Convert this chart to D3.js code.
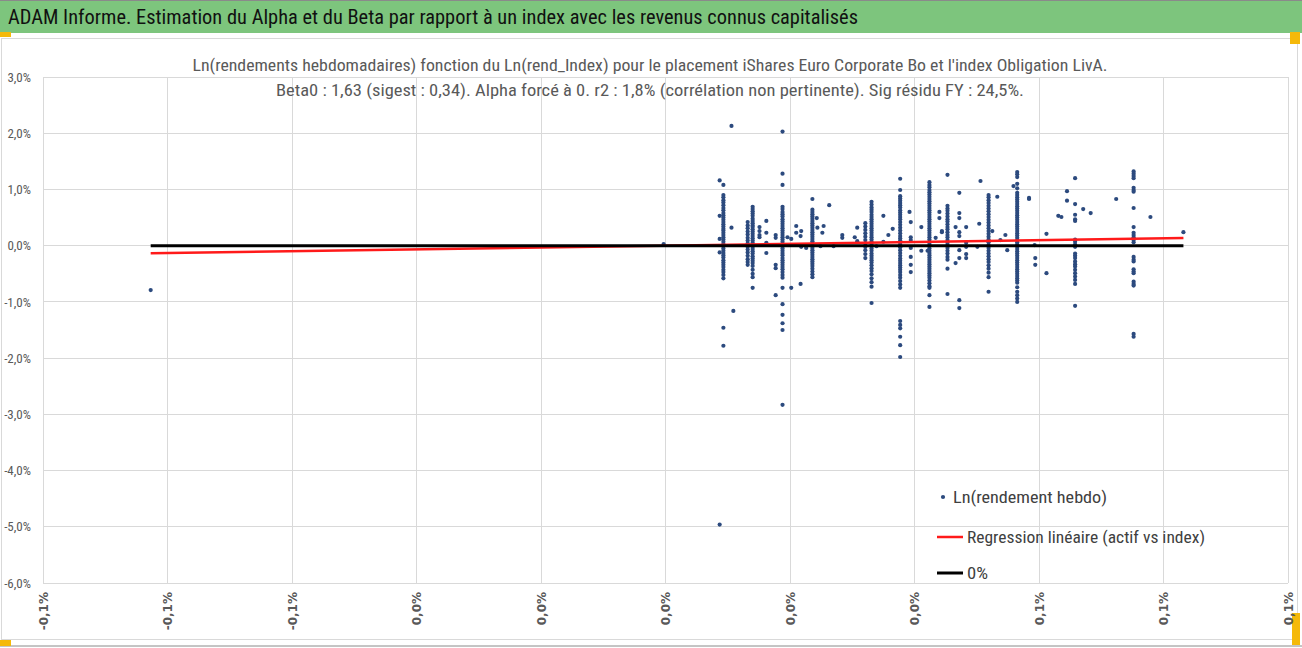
<!DOCTYPE html>
<html>
<head>
<meta charset="utf-8">
<script src="https://cdn.jsdelivr.net/npm/d3@7"></script>
<style>
  body { margin: 0; background: #fff; }
  svg { display: block; }
  .narrow { font-family: 'Liberation Sans Narrow', 'Roboto Condensed', 'Open Sans', sans-serif; }
</style>
</head>
<body>
<svg id="chart" width="1302" height="648"></svg>
<script>
// Titles
const bandTitle = "ADAM Informe. Estimation du Alpha et du Beta par rapport à un index avec les revenus connus capitalisés";
const chartTitle = [
    "Ln(rendements hebdomadaires) fonction du Ln(rend_Index) pour le placement iShares Euro Corporate Bo et l'index Obligation LivA.",
    "Beta0 : 1,63 (sigest : 0,34). Alpha forcé à 0. r2 : 1,8% (corrélation non pertinente). Sig résidu FY : 24,5%."
];
const legendLabels = ["Ln(rendement hebdo)", "Regression linéaire (actif vs index)", "0%"];

// Axis ticks (values in %)
const xTicks = [-0.1, -0.08, -0.06, -0.04, -0.02, 0, 0.02, 0.04, 0.06, 0.08, 0.1];
const xTickLabels = ["-0,1%", "-0,1%", "-0,1%", "0,0%", "0,0%", "0,0%", "0,0%", "0,0%", "0,1%", "0,1%", "0,1%"];
const yTicks = [3, 2, 1, 0, -1, -2, -3, -4, -5, -6];

// Regression: alpha forced to 0
const beta0 = 1.63;

// Scatter: x of each column of points (Ln rend index, %) and its y values (Ln rend hebdo, %)
const colX = [
    -0.0827, -0.0003, 0.0087, 0.0093, 0.0106, 0.0109, 0.0132, 0.0140, 0.0151, 0.0162,
    0.0177, 0.0188, 0.0196, 0.0202, 0.0210, 0.0217, 0.0218, 0.0226, 0.0236, 0.0243,
    0.0244, 0.0249, 0.0252, 0.0254, 0.0263, 0.0270, 0.0284, 0.0304, 0.0308, 0.0321,
    0.0331, 0.0339, 0.0350, 0.0358, 0.0365, 0.0377, 0.0392, 0.0394, 0.0411, 0.0421,
    0.0424, 0.0434, 0.0440, 0.0444, 0.0453, 0.0466, 0.0472, 0.0483, 0.0501, 0.0504,
    0.0506, 0.0519, 0.0525, 0.0533, 0.0538, 0.0546, 0.0549, 0.0559, 0.0565, 0.0584,
    0.0593, 0.0594, 0.0612, 0.0631, 0.0636, 0.0645, 0.0658, 0.0671, 0.0683, 0.0724,
    0.0752, 0.0779, 0.0832
];
const colY = [
    [-0.79],
    [0.03],
    [1.16, 0.53, 0.12, -0.12, -4.96],
    [1.08, 0.90, 0.86, 0.81, 0.77, 0.72, 0.67, 0.63, 0.58, 0.54, 0.50, 0.46, 0.42, 0.38, 0.34, 0.30, 0.27, 0.23, 0.19, 0.15,
     0.11, 0.07, 0.03, -0.01, -0.05, -0.09, -0.13, -0.17, -0.21, -0.26, -0.30, -0.34, -0.38, -0.43, -0.47, -0.52, -0.58, -1.46, -1.78],
    [2.13, 0.32],
    [-1.16],
    [0.42, 0.36, 0.31, 0.25, 0.20, 0.14, 0.09, 0.04, -0.02, -0.07, -0.12, -0.18, -0.24, -0.29, -0.34],
    [0.69, 0.65, 0.61, 0.57, 0.53, 0.48, 0.44, 0.40, 0.36, 0.33, 0.29, 0.25, 0.21, 0.17, 0.13, 0.09, 0.05, 0.02, -0.02, -0.06,
     -0.10, -0.14, -0.19, -0.23, -0.27, -0.31, -0.36, -0.43, -0.50, -0.56, -0.75],
    [0.33, 0.26, 0.19, 0.15],
    [0.44, 0.23, 0.05, -0.13],
    [0.19, 0.14, -0.34, -0.40, -0.88],
    [2.03, 1.28, 1.08, 0.69, 0.65, 0.60, 0.56, 0.52, 0.47, 0.43, 0.39, 0.35, 0.31, 0.27, 0.23, 0.19, 0.15, 0.11, 0.07, 0.03,
     -0.01, -0.05, -0.09, -0.13, -0.17, -0.22, -0.26, -0.30, -0.34, -0.38, -0.42, -0.47, -0.52, -0.57, -0.75, -1.04, -1.23, -1.38, -1.50, -2.83],
    [0.15],
    [0.12, -0.75],
    [0.35, 0.23],
    [0.17, -0.68],
    [0.26, -0.02],
    [-0.04],
    [0.83, 0.64, 0.60, 0.56, 0.52, 0.48, 0.44, 0.40, 0.36, 0.32, 0.28, 0.24, 0.20, 0.16, 0.12, 0.08, 0.04, 0.00, -0.04, -0.08,
     -0.12, -0.16, -0.20, -0.24, -0.28, -0.32, -0.36, -0.41, -0.46, -0.51, -0.56],
    [0.49],
    [0.32],
    [-0.01],
    [0.23],
    [0.35],
    [0.72],
    [-0.01],
    [0.19, 0.14],
    [0.15],
    [0.32, 0.08],
    [0.40, 0.34, 0.28, 0.22, 0.16, 0.10, 0.04, -0.02, -0.08, -0.15, -0.22],
    [0.78, 0.73, 0.68, 0.64, 0.60, 0.55, 0.51, 0.47, 0.43, 0.39, 0.35, 0.31, 0.27, 0.23, 0.19, 0.15, 0.11, 0.07, 0.03, -0.01,
     -0.05, -0.09, -0.14, -0.18, -0.22, -0.26, -0.30, -0.35, -0.40, -0.45, -0.51, -0.58, -0.65, -0.73, -1.02],
    [-0.01],
    [0.53, 0.07],
    [0.19],
    [0.30],
    [1.19, 0.99, 0.88, 0.84, 0.80, 0.76, 0.72, 0.68, 0.63, 0.59, 0.55, 0.51, 0.47, 0.42, 0.37, 0.32, 0.27, 0.22, 0.17, 0.13,
     0.09, 0.05, 0.01, -0.03, -0.08, -0.13, -0.18, -0.23, -0.27, -0.31, -0.35, -0.39, -0.43, -0.47, -0.52, -0.57, -0.63, -0.69, -0.75,
     -1.34, -1.41, -1.47, -1.62, -1.77, -1.98],
    [0.60],
    [0.42, 0.15, 0.10, -0.04, -0.20, -0.34, -0.47],
    [0.33, -0.09],
    [-0.09],
    [1.13, 1.08, 1.04, 0.99, 0.95, 0.91, 0.87, 0.83, 0.79, 0.75, 0.71, 0.67, 0.63, 0.59, 0.55, 0.51, 0.47, 0.43, 0.39, 0.35,
     0.31, 0.27, 0.23, 0.19, 0.15, 0.11, 0.07, 0.03, -0.01, -0.05, -0.09, -0.13, -0.17, -0.21, -0.25, -0.29, -0.33, -0.37, -0.41,
     -0.45, -0.49, -0.53, -0.57, -0.62, -0.67, -0.72, -0.75, -0.88, -1.09],
    [0.14],
    [0.60, 0.49],
    [0.24, 0.26],
    [1.26, 0.71, 0.66, 0.62, 0.57, 0.52, 0.47, 0.43, 0.38, 0.33, 0.29, 0.24, 0.19, 0.15, 0.10, 0.05, 0.01, -0.04, -0.09, -0.14,
     -0.20, -0.25, -0.41, -0.86],
    [0.33, -0.31],
    [0.94, 0.58, 0.49, 0.24, 0.17, -0.08, -0.22, -0.97, -1.11],
    [0.33, 0.05, -0.02, -0.15, -0.22],
    [-0.02],
    [0.39],
    [1.15],
    [0.90, 0.86, 0.81, 0.76, 0.71, 0.66, 0.61, 0.56, 0.51, 0.46, 0.41, 0.36, 0.31, 0.26, 0.21, 0.16, 0.11, 0.06, 0.01, -0.04,
     -0.09, -0.14, -0.19, -0.24, -0.29, -0.35, -0.41, -0.48, -0.56, -0.82],
    [0.26],
    [0.87],
    [0.10],
    [0.19],
    [-0.08],
    [1.06],
    [1.31, 1.27, 1.22, 1.10, 1.02, 0.94, 0.90, 0.86, 0.82, 0.78, 0.74, 0.70, 0.66, 0.62, 0.58, 0.54, 0.50, 0.46, 0.42, 0.38,
     0.34, 0.30, 0.26, 0.22, 0.18, 0.14, 0.10, 0.06, 0.02, -0.02, -0.06, -0.10, -0.14, -0.18, -0.22, -0.26, -0.30, -0.34, -0.38,
     -0.42, -0.46, -0.50, -0.54, -0.58, -0.62, -0.66, -0.74, -0.82, -0.88, -0.94, -1.00],
    [0.83, 0.85],
    [0.01],
    [-0.22, -0.34],
    [0.21, -0.49],
    [0.53],
    [0.51],
    [0.97, 0.80],
    [1.20, 0.74, 0.55, 0.47, 0.44, 0.11, 0.07, 0.02, -0.02, -0.14, -0.18, -0.22, -0.28, -0.33, -0.37, -0.43, -0.49, -0.55, -0.61,
     -0.68, -1.07],
    [0.65],
    [0.58],
    [0.83],
    [1.32, 1.28, 1.24, 1.20, 1.03, 0.99, 0.96, 0.67, 0.33, 0.23, 0.19, 0.15, 0.10, 0.06, -0.20, -0.25, -0.28, -0.42, -0.46, -0.49,
     -0.64, -0.68, -0.71, -1.57, -1.62],
    [0.51],
    [0.24]
];

const points = colX.flatMap((x, i) => colY[i].map(y => ({ x: x, y: y })));
const xExtent = d3.extent(points, d => d.x);

const svg = d3.select("#chart");

// sheet band with the main title
svg.append("rect").attr("x", 0).attr("y", 0).attr("width", 1302).attr("height", 33).attr("fill", "#7dc57d");
svg.append("line").attr("x1", 0).attr("x2", 1302).attr("y1", 0.5).attr("y2", 0.5).attr("stroke", "#8a8a8a");
svg.append("text")
    .attr("class", "narrow")
    .attr("x", 8).attr("y", 24)
    .attr("font-size", 20)
    .attr("fill", "#111")
    .attr("textLength", 850).attr("lengthAdjust", "spacingAndGlyphs")
    .text(bandTitle);

// chart area frame
svg.append("rect").attr("x", 1.5).attr("y", 38.5).attr("width", 1296).attr("height", 601)
    .attr("fill", "#fff").attr("stroke", "#d9d9d9");
svg.append("line").attr("x1", 0).attr("x2", 1302).attr("y1", 646).attr("y2", 646).attr("stroke", "#8a8a8a");

// selection handles
const handles = [[0, 32, 11, 5], [1290, 32, 10, 12], [1292, 613, 8, 32], [0, 640, 11, 6]];
svg.selectAll(".handle").data(handles).enter().append("rect")
    .attr("class", "handle")
    .attr("x", d => d[0]).attr("y", d => d[1]).attr("width", d => d[2]).attr("height", d => d[3])
    .attr("fill", "#f5b90a");

const margin = { top: 77, right: 14, bottom: 65, left: 43 };
const width = 1302 - margin.left - margin.right;
const height = 648 - margin.top - margin.bottom;

const x = d3.scaleLinear().domain([-0.1, 0.1]).range([margin.left, margin.left + width]);
const y = d3.scaleLinear().domain([-6, 3]).range([margin.top + height, margin.top]);

// grid
svg.append("g")
    .selectAll("line").data(xTicks).enter().append("line")
    .attr("x1", d => x(d)).attr("x2", d => x(d))
    .attr("y1", y(3)).attr("y2", y(-6))
    .attr("stroke", "#d9d9d9").attr("shape-rendering", "crispEdges");
svg.append("g")
    .selectAll("line").data(yTicks).enter().append("line")
    .attr("x1", x(-0.1)).attr("x2", x(0.1))
    .attr("y1", d => y(d)).attr("y2", d => y(d))
    .attr("stroke", "#d9d9d9").attr("shape-rendering", "crispEdges");

// Y axis labels
const yFormat = d => d3.format(".1f")(d).replace("\u2212", "-").replace(".", ",") + "%";
svg.append("g")
    .attr("transform", `translate(${margin.left},0)`)
    .call(d3.axisLeft(y).tickValues(yTicks).tickFormat(yFormat).tickSize(0).tickPadding(12))
    .call(g => g.select(".domain").remove())
    .selectAll("text")
    .attr("class", "narrow")
    .attr("font-size", 13)
    .attr("fill", "#595959");

// X axis labels, rotated
svg.append("g")
    .attr("transform", `translate(0,${margin.top + height})`)
    .call(d3.axisBottom(x).tickValues(xTicks).tickFormat((d, i) => xTickLabels[i]).tickSize(0))
    .call(g => g.select(".domain").remove())
    .selectAll("text")
    .attr("font-family", "'DejaVu Sans', sans-serif")
    .attr("font-weight", "bold")
    .attr("font-size", 12)
    .attr("fill", "#595959")
    .attr("text-anchor", "end")
    .attr("transform", "rotate(-90)")
    .attr("x", -9)
    .attr("y", 0)
    .attr("dy", "0.35em");

// scatter
svg.append("g")
    .selectAll("circle").data(points).enter().append("circle")
    .attr("cx", d => x(d.x))
    .attr("cy", d => y(d.y))
    .attr("r", 2.1)
    .attr("fill", "#2c4a7e");

// regression line and zero line
const line = d3.line().x(d => x(d[0])).y(d => y(d[1]));
svg.append("path")
    .datum(xExtent.map(v => [v, beta0 * v]))
    .attr("d", line)
    .attr("stroke", "#ff1a1a").attr("stroke-width", 2.5).attr("fill", "none");
svg.append("path")
    .datum(xExtent.map(v => [v, 0]))
    .attr("d", line)
    .attr("stroke", "#000").attr("stroke-width", 3).attr("fill", "none");

// chart title
const titleW = [915, 748];
svg.append("g").selectAll("text").data(chartTitle).enter().append("text")
    .attr("class", "narrow")
    .attr("x", 650).attr("y", (d, i) => 71 + i * 25)
    .attr("text-anchor", "middle")
    .attr("font-size", 16)
    .attr("fill", "#595959")
    .attr("textLength", (d, i) => titleW[i]).attr("lengthAdjust", "spacingAndGlyphs")
    .text(d => d);

// legend
const legendW = [154, 238, 21];
const lg = svg.append("g");
lg.append("circle").attr("cx", 943).attr("cy", 497).attr("r", 2.1).attr("fill", "#2c4a7e");
lg.append("line").attr("x1", 937).attr("x2", 963).attr("y1", 537).attr("y2", 537)
    .attr("stroke", "#ff1a1a").attr("stroke-width", 2.5);
lg.append("line").attr("x1", 937).attr("x2", 963).attr("y1", 573).attr("y2", 573)
    .attr("stroke", "#000").attr("stroke-width", 3);
lg.selectAll("text").data(legendLabels).enter().append("text")
    .attr("class", "narrow")
    .attr("x", (d, i) => i === 0 ? 953 : 967)
    .attr("y", (d, i) => [503, 543, 579][i])
    .attr("font-size", 17)
    .attr("fill", "#404040")
    .attr("textLength", (d, i) => legendW[i]).attr("lengthAdjust", "spacingAndGlyphs")
    .text(d => d);
</script>
</body>
</html>
